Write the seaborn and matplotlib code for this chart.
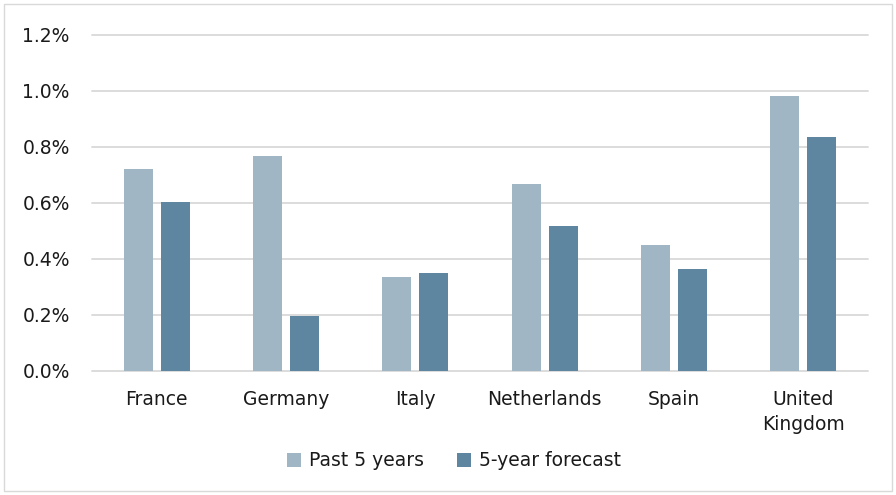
import matplotlib
matplotlib.use("Agg")
import matplotlib.pyplot as plt
import seaborn as sns
import pandas as pd
from matplotlib.patches import Rectangle
from matplotlib.ticker import FuncFormatter

countries = ["France", "Germany", "Italy", "Netherlands", "Spain", "United\nKingdom"]
past_5_years = [0.720, 0.769, 0.336, 0.668, 0.450, 0.982]
forecast_5_year = [0.605, 0.196, 0.350, 0.518, 0.363, 0.835]
series_names = ["Past 5 years", "5-year forecast"]
colors = ["#A0B6C5", "#5E86A0"]
yticks = [0.0, 0.2, 0.4, 0.6, 0.8, 1.0, 1.2]

df = pd.DataFrame({
    "country": countries * 2,
    "value": past_5_years + forecast_5_year,
    "series": [series_names[0]] * len(countries) + [series_names[1]] * len(countries),
})

sns.set_theme(style="white")
plt.rcParams['font.family'] = ['DejaVu Sans']

fig = plt.figure(figsize=(8.96, 4.95), dpi=100)
ax = fig.add_axes([92/896, 1-371/495, (868-92)/896, (371-35)/495])

sns.barplot(data=df, x="country", y="value", hue="series", palette=colors,
            width=0.572, gap=0.216, ax=ax, saturation=1, edgecolor="none")

ax.set_ylim(0, 1.2)
ax.set_xlim(-0.5, len(countries) - 0.5)
ax.set_yticks(yticks)
ax.yaxis.set_major_formatter(FuncFormatter(lambda v, p: f"{v:.1f}%"))
ax.grid(axis="y", color="#D9D9D9", linewidth=1.3)
for gl in ax.get_ygridlines():
    gl.set_clip_on(False)
ax.set_axisbelow(True)
for s in ax.spines.values():
    s.set_visible(False)
ax.set_xlabel("")
ax.set_ylabel("")
ax.tick_params(axis="both", length=0, labelsize=13.5, colors="#1a1a1a")
ax.tick_params(axis="y", pad=16)
ax.tick_params(axis="x", pad=14)
for lbl in ax.get_xticklabels():
    lbl.set_linespacing(1.35)

leg = ax.legend(loc="center", bbox_to_anchor=((454-92)/776, -(461-371)/336), ncol=2,
                frameon=False, fontsize=13.5, handlelength=0.75, handleheight=0.75,
                handletextpad=0.4, columnspacing=1.8)
for t in leg.get_texts():
    t.set_color("#1a1a1a")

fig.patches.append(Rectangle((4/896, 4/495), 888/896, 487/495, transform=fig.transFigure,
                             fill=False, edgecolor="#D9D9D9", linewidth=1))

fig.savefig("out.png", dpi=100)
